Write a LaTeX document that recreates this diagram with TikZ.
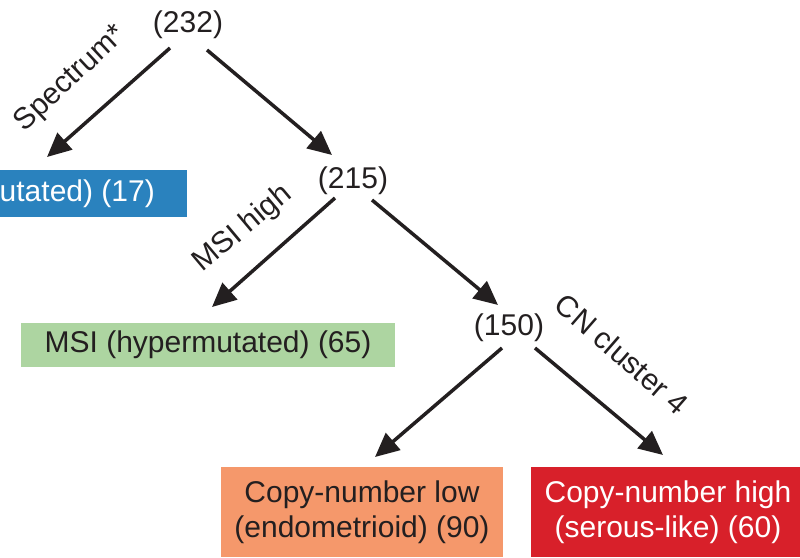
\documentclass[tikz,border=0pt]{standalone}
\usepackage{fontspec}
\setmainfont{Liberation Sans}
\usetikzlibrary{arrows.meta}
\definecolor{ink}{HTML}{231F20}
\definecolor{poleblue}{HTML}{2A82BE}
\definecolor{msigreen}{HTML}{ADD5A1}
\definecolor{cnlorange}{HTML}{F5986B}
\definecolor{cnhred}{HTML}{D8202A}
\begin{document}
\begin{tikzpicture}[x=1pt,y=-1pt,
  font=\fontsize{30}{35}\selectfont,
  arr/.style={-{Triangle[length=24pt,width=22pt]}, line width=3.5pt, draw=ink},
  num/.style={text=ink, inner sep=0pt},
  lbl/.style={text=ink, inner sep=0pt},
  box/.style={inner sep=0pt, text=ink, align=center}]
\useasboundingbox (0,0) rectangle (800,557);
\clip (0,0) rectangle (800,557);

% count nodes
\node[num] (n232) at (188,25) {(232)};
\node[num] (n215) at (353,181) {(215)};
\node[num] (n150) at (509,328) {(150)};

% leaf boxes
\node[box, fill=poleblue, text=white, anchor=east, minimum height=47pt, inner xsep=32pt] (pole) at (187,193.5) {utated) (17)};
\node[box, fill=msigreen, minimum width=374pt, minimum height=44pt] (msi) at (208,345) {MSI (hypermutated) (65)};
\node[box, fill=cnlorange, minimum width=282pt, minimum height=90pt] (cnl) at (362,512) {Copy-number low\\(endometrioid) (90)};
\node[box, fill=cnhred, text=white, minimum width=274pt, minimum height=90pt] (cnh) at (668,512) {Copy-number high\\(serous-like) (60)};

% branch labels
\node[lbl, rotate=43] (lspec) at (71,79) {Spectrum*};
\node[lbl, rotate=40] (lmsi) at (243,229) {MSI high};
\node[lbl, rotate=-41] (lcn) at (622,354) {CN cluster 4};

% arrow tips
\coordinate (tA) at (47,157);
\coordinate (tB) at (332,155);
\coordinate (tC) at (212,307);
\coordinate (tD) at (498,305);
\coordinate (tE) at (375,457);
\coordinate (tF) at (663,455);

\draw[arr] (n232) ++(-18,23) -- (tA);
\draw[arr] (n232) ++(19,25) -- (tB);
\draw[arr] (n215) ++(-18,17) -- (tC);
\draw[arr] (n215) ++(19,19) -- (tD);
\draw[arr] (n150) ++(-7,20) -- (tE);
\draw[arr] (n150) ++(26,20) -- (tF);
\end{tikzpicture}
\end{document}
